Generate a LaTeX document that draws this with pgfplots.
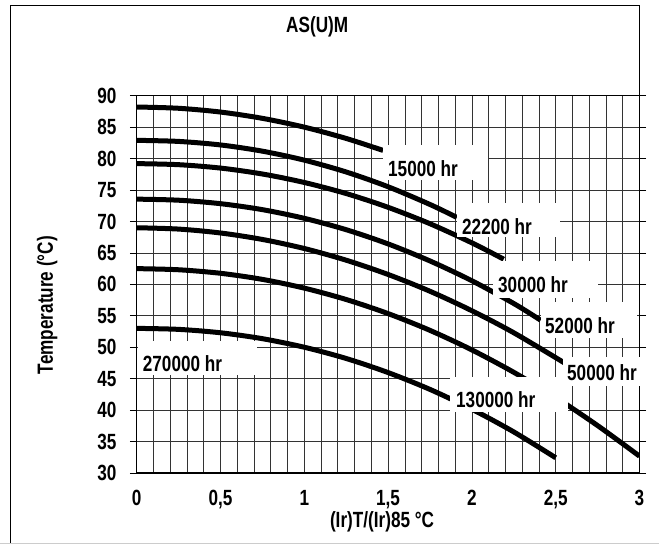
\documentclass[border=0pt]{standalone}
\usepackage{pgfplots}
\pgfplotsset{compat=1.18}
\usepackage{fontspec}
\setmainfont{Liberation Sans}[FakeStretch=0.78]
\newcommand\lf{\fontsize{22bp}{26bp}\selectfont\bfseries}

\begin{document}
\begin{tikzpicture}
\useasboundingbox (0,0) rectangle (659bp,546bp);
\fill[white] (0,0) rectangle (659bp,546bp);
\begin{axis}[
  at={(136.7bp,73bp)}, anchor=south west,
  scale only axis, width=502.8bp, height=377.3bp,
  xmin=0, xmax=3, ymin=30, ymax=90,
  xtick={0,0.5,1,1.5,2,2.5,3}, minor x tick num=4,
  ytick={30,35,...,90},
  grid=both,
  major grid style={black!80,line width=0.7bp},
  minor grid style={black!80,line width=0.7bp},
  axis line style={line width=1.3bp},
  tick align=outside, major tick length=6.7bp, minor tick length=0pt,
  xtick style={draw=none},
  ytick style={black,line width=0.7bp},
  ticklabel style={font=\lf},
  yticklabel style={xshift=-10bp},
  xticklabel style={yshift=-7bp},
  /pgf/number format/assume math mode=true,
  /pgf/number format/use comma,
  title={AS(U)M},
  title style={font=\lf, at={(axis description cs:0.359,1.166)}, anchor=center},
  xlabel={(Ir)T/(Ir)85 °C},
  ylabel={Temperature (°C)},
  every axis x label/.style={font=\lf, at={(axis description cs:0.488,-0.13)}, anchor=center},
  every axis y label/.style={font=\lf, rotate=90, at={(axis description cs:-0.178,0.445)}, anchor=center},
]
% 15000 hr
\addplot[black, line width=5bp, smooth, line cap=butt] coordinates {
(0,88.2) (0.25,88.0) (0.5,87.4) (0.75,86.4) (1.0,85.0) (1.25,83.2) (1.47,81.3)};
% 22200 hr
\addplot[black, line width=5bp, smooth, line cap=butt] coordinates {
(0,82.9) (0.25,82.73) (0.5,82.17) (0.75,81.18) (1.0,79.75) (1.25,77.87) (1.5,75.52) (1.75,72.7) (1.91,70.65)};
% 30000 hr
\addplot[black, line width=5bp, smooth, line cap=butt] coordinates {
(0,79.2) (0.25,79.03) (0.5,78.49) (0.75,77.55) (1.0,76.2) (1.25,74.44) (1.5,72.25) (1.75,69.64) (2.0,66.6) (2.19,64.0)};
% 52000 hr
\addplot[black, line width=5bp, smooth, line cap=butt] coordinates {
(0,73.55) (0.25,73.38) (0.5,72.83) (0.75,71.88) (1.0,70.5) (1.25,68.69) (1.5,66.43) (1.75,63.72) (2.0,60.57) (2.25,56.95) (2.41,54.3)};
% 50000 hr
\addplot[black, line width=5bp, smooth, line cap=butt] coordinates {
(0,69.0) (0.25,68.79) (0.5,68.17) (0.75,67.14) (1.0,65.7) (1.25,63.84) (1.5,61.57) (1.75,58.9) (2.0,55.8) (2.25,52.3) (2.55,47.54)};
% curve through the 130000 hr box to x=3
\addplot[black, line width=5bp, smooth, line cap=butt] coordinates {
(0,62.5) (0.25,62.32) (0.5,61.76) (0.75,60.79) (1.0,59.4) (1.25,57.59) (1.5,55.35) (1.75,52.68) (2.0,49.57) (2.25,46.01) (2.5,42.01) (2.75,37.54) (3.0,32.68)};
% lowest curve
\addplot[black, line width=5bp, smooth, line cap=butt] coordinates {
(0,53.0) (0.25,52.84) (0.5,52.3) (0.75,51.36) (1.0,50.0) (1.25,48.21) (1.5,45.97) (1.75,43.29) (2.0,40.14) (2.25,36.53) (2.5,32.42)};
\end{axis}
% frame
\draw[line width=1bp] (10.5bp,2bp) -- (10.5bp,540bp) -- (639.5bp,540bp) -- (639.5bp,450.3bp);
\draw[black!20,line width=1bp] (0,2bp) -- (659bp,2bp);
% curve labels on white boxes
\fill[white] (383bp,401bp) rectangle (488bp,366bp);
\node[anchor=west,inner sep=0,font=\lf] at (388bp,377bp) {15000 hr};
\fill[white] (457bp,343bp) rectangle (560bp,309bp);
\node[anchor=west,inner sep=0,font=\lf] at (462bp,319bp) {22200 hr};
\fill[white] (493bp,285bp) rectangle (598bp,248bp);
\node[anchor=west,inner sep=0,font=\lf] at (498bp,261bp) {30000 hr};
\fill[white] (541bp,244bp) rectangle (637bp,208bp);
\node[anchor=west,inner sep=0,font=\lf] at (545bp,220.5bp) {52000 hr};
\fill[white] (450bp,169bp) rectangle (568bp,134.3bp);
\node[anchor=west,inner sep=0,font=\lf] at (456bp,146bp) {130000 hr};
\fill[white] (563bp,189bp) rectangle (659bp,160bp);
\node[anchor=west,inner sep=0,font=\lf] at (567bp,173.5bp) {50000 hr};
\fill[white] (137.5bp,205bp) rectangle (256.7bp,171bp);
\node[anchor=west,inner sep=0,font=\lf] at (142.7bp,182.7bp) {270000 hr};
\end{tikzpicture}
\end{document}
